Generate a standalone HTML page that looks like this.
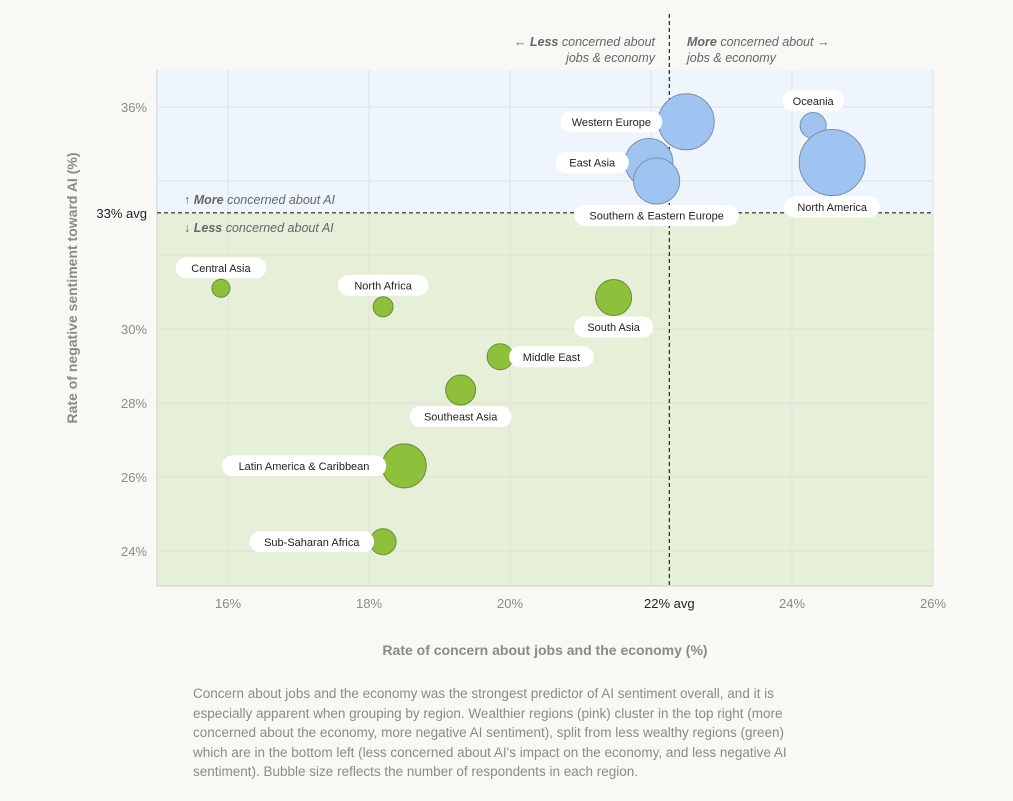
<!DOCTYPE html>
<html><head><meta charset="utf-8">
<style>
body{margin:0;background:#f9f8f5;font-family:"Liberation Sans",sans-serif;}
#wrap{position:relative;width:1013px;height:801px;}
.cap{position:absolute;left:193px;top:684px;width:625px;font-size:13.5px;line-height:19.5px;color:#8a8a86;}
</style></head><body>
<div id="wrap">
<svg id="chart" width="1013" height="680" style="position:absolute;left:0;top:0"></svg>
<div class="cap">Concern about jobs and the economy was the strongest predictor of AI sentiment overall, and it is especially apparent when grouping by region. Wealthier regions (pink) cluster in the top right (more concerned about the economy, more negative AI sentiment), split from less wealthy regions (green) which are in the bottom left (less concerned about AI's impact on the economy, and less negative AI sentiment). Bubble size reflects the number of respondents in each region.</div>
</div>
<script>
const regions=["Western Europe","East Asia","Southern & Eastern Europe","Oceania","North America","Central Asia","North Africa","South Asia","Middle East","Southeast Asia","Latin America & Caribbean","Sub-Saharan Africa"];
const jobsConcern=[22.5,21.97,22.08,24.3,24.57,15.9,18.2,21.47,19.86,19.3,18.5,18.2];
const negSentiment=[35.6,34.5,34.0,35.5,34.5,31.1,30.6,30.85,29.25,28.35,26.3,24.25];
const respondents=[784,576,529,169,1089,81,100,324,169,225,484,169];
const xTicks=[16,18,20,24,26];
const yTicks=[24,26,28,30,36];
const xGrid=[16,18,20,22,24,26];
const yGrid=[24,26,28,30,32,34,36];
const xAvg=22.26, yAvg=33.14;
const labelSide=["left","left","below","above","below","above","above","below","right","below","left","left"];

const NS="http://www.w3.org/2000/svg";
const svg=document.getElementById('chart');
const X=v=>228+(v-16)*70.5;
const Y=v=>107+(36-v)*37;
const R=n=>Math.sqrt(n);
const L=157,Rt=933,T=70,B=586;
function mk(tag,attrs,parent){const e=document.createElementNS(NS,tag);for(const k in attrs)e.setAttribute(k,attrs[k]);(parent||svg).appendChild(e);return e;}
function txt(x,y,s,attrs){const t=mk('text',Object.assign({x:x,y:y,'font-family':'Liberation Sans, sans-serif'},attrs));t.innerHTML=s;return t;}

let e;
e=mk('rect',{x:L,y:T,width:Rt-L,height:Y(yAvg)-T,fill:'#eef5fd'});


e=mk('rect',{x:L,y:Y(yAvg),width:Rt-L,height:B-Y(yAvg),fill:'#e6efd8'});


xGrid.forEach(v=>{e=mk('line',{x1:X(v),x2:X(v),y1:T,y2:B,stroke:'#dfe2dc','stroke-width':1});

});
yGrid.forEach(v=>{e=mk('line',{x1:L,x2:Rt,y1:Y(v),y2:Y(v),stroke:'#dfe2dc','stroke-width':1});

});
e=mk('line',{x1:L,x2:L,y1:T,y2:B,stroke:'#cfcfcb'});


e=mk('line',{x1:L,x2:Rt,y1:B,y2:B,stroke:'#cfcfcb'});



xTicks.forEach(v=>{e=txt(X(v),608,v+'%',{'font-size':13,fill:'#8a8a86','text-anchor':'middle'});

});
yTicks.forEach(v=>{e=txt(147,Y(v)+5,v+'%',{'font-size':13,fill:'#8a8a86','text-anchor':'end'});

});

e=mk('line',{x1:X(xAvg),x2:X(xAvg),y1:14,y2:B,stroke:'#222','stroke-width':1.2,'stroke-dasharray':'4 3'});


e=mk('line',{x1:L,x2:Rt,y1:Y(yAvg),y2:Y(yAvg),stroke:'#222','stroke-width':1.2,'stroke-dasharray':'4 3'});


e=txt(X(xAvg),608,'22% avg',{'font-size':13,fill:'#222','text-anchor':'middle'});


e=txt(147,Y(yAvg)+5,'33% avg',{'font-size':13,fill:'#222','text-anchor':'end'});



const ann={'font-size':12.5,fill:'#666','font-style':'italic'};
e=txt(655,46,'← <tspan font-weight="bold">Less</tspan> concerned about',Object.assign({'text-anchor':'end'},ann));


e=txt(655,62,'jobs &amp; economy',Object.assign({'text-anchor':'end'},ann));


e=txt(687,46,'<tspan font-weight="bold">More</tspan> concerned about →',ann);


e=txt(687,62,'jobs &amp; economy',ann);


e=txt(184,204,'↑ <tspan font-weight="bold">More</tspan> concerned about AI',ann);


e=txt(184,232,'↓ <tspan font-weight="bold">Less</tspan> concerned about AI',ann);



e=txt(545,655,'Rate of concern about jobs and the economy (%)',{'font-size':14,fill:'#8a8a86','font-weight':'bold','text-anchor':'middle'});


e=txt(0,0,'Rate of negative sentiment toward AI (%)',{'font-size':14,fill:'#8a8a86','font-weight':'bold','text-anchor':'middle',transform:'translate(77,288) rotate(-90)'});



const g=mk('g',{});
regions.forEach((r,i)=>{
  const hi=negSentiment[i]>yAvg;
  e=mk('circle',{cx:X(jobsConcern[i]),cy:Y(negSentiment[i]),r:R(respondents[i]),fill:hi?'#a0c4f2':'#8fc03c',stroke:hi?'#7a8fa8':'#6d8a3a','stroke-width':1},g);
  
  
});
regions.forEach((r,i)=>{
  const cx=X(jobsConcern[i]),cy=Y(negSentiment[i]),rr=R(respondents[i]);
  const w=r.length*5.7+22,h=21;
  let lx=cx,ly=cy;
  const s=labelSide[i];
  if(s==='left'){lx=cx-rr-w/2+4;}
  if(s==='right'){lx=cx+rr+w/2-4;}
  if(s==='above'){ly=cy-rr-h/2-1;}
  if(s==='below'){ly=cy+rr+h/2+1;}
  const lg=mk('g',{});
  
  
  mk('rect',{x:lx-w/2,y:ly-h/2,width:w,height:h,rx:10.5,fill:'#fff'},lg);
  const t=mk('text',{x:lx,y:ly+4,'font-size':11,fill:'#222','text-anchor':'middle','font-family':'Liberation Sans, sans-serif'},lg);
  t.textContent=r;
});
</script>
</body></html>
